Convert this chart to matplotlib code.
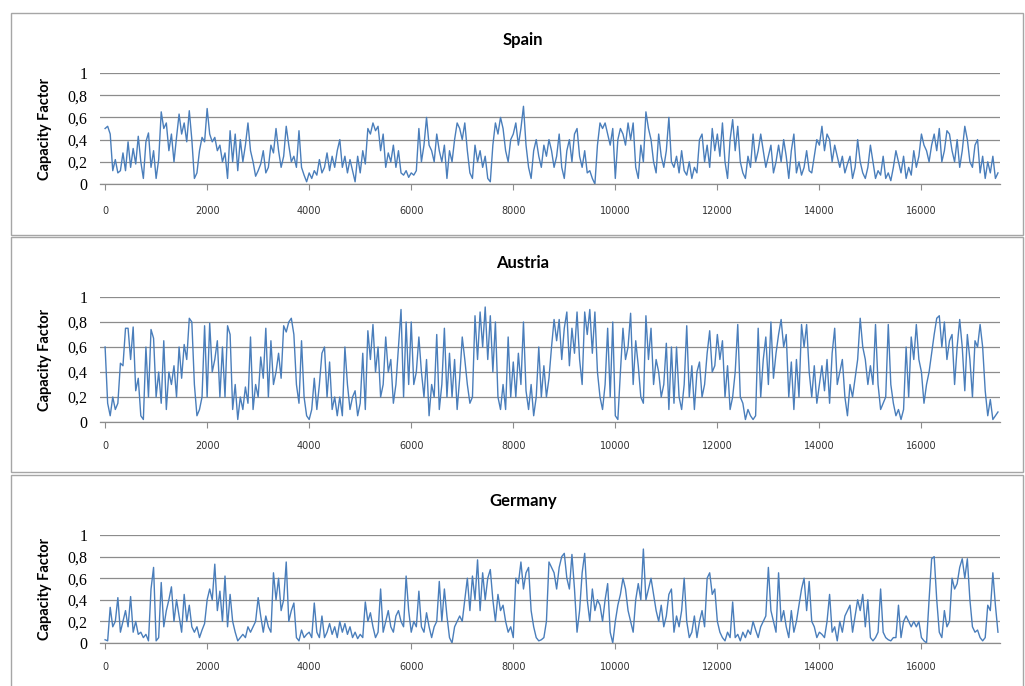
import numpy as np
import matplotlib
matplotlib.use("Agg")
import matplotlib.pyplot as plt
from matplotlib.patches import Rectangle

# capacity factor, one value every 50 time steps (0 .. 17500)
step = 50
spain = [
    0.50, 0.52, 0.45, 0.12, 0.22, 0.10, 0.12, 0.28, 0.12, 0.38, 0.15, 0.32, 0.18, 0.43, 0.20, 0.05, 0.38, 0.46, 0.15, 0.30,
    0.05, 0.22, 0.65, 0.50, 0.55, 0.30, 0.45, 0.20, 0.42, 0.63, 0.45, 0.55, 0.38, 0.66, 0.40, 0.05, 0.10, 0.30, 0.42, 0.38,
    0.68, 0.45, 0.38, 0.42, 0.30, 0.35, 0.20, 0.28, 0.05, 0.48, 0.20, 0.45, 0.12, 0.40, 0.20, 0.35, 0.55, 0.30, 0.20, 0.07,
    0.12, 0.18, 0.30, 0.10, 0.15, 0.35, 0.28, 0.50, 0.30, 0.15, 0.25, 0.52, 0.35, 0.20, 0.25, 0.15, 0.48, 0.15, 0.08, 0.02,
    0.10, 0.05, 0.12, 0.08, 0.22, 0.10, 0.15, 0.28, 0.12, 0.25, 0.15, 0.30, 0.40, 0.15, 0.25, 0.10, 0.22, 0.12, 0.02, 0.25,
    0.10, 0.30, 0.18, 0.50, 0.45, 0.55, 0.48, 0.52, 0.30, 0.45, 0.15, 0.28, 0.20, 0.35, 0.15, 0.30, 0.10, 0.08, 0.12, 0.06,
    0.10, 0.08, 0.12, 0.50, 0.20, 0.35, 0.60, 0.35, 0.30, 0.20, 0.45, 0.30, 0.20, 0.35, 0.05, 0.30, 0.20, 0.40, 0.55, 0.50,
    0.40, 0.55, 0.30, 0.10, 0.05, 0.35, 0.20, 0.30, 0.15, 0.25, 0.05, 0.02, 0.35, 0.55, 0.45, 0.60, 0.50, 0.30, 0.20, 0.40,
    0.45, 0.55, 0.35, 0.50, 0.70, 0.35, 0.15, 0.05, 0.30, 0.40, 0.25, 0.15, 0.35, 0.25, 0.40, 0.30, 0.15, 0.25, 0.45, 0.15,
    0.05, 0.30, 0.40, 0.20, 0.45, 0.50, 0.25, 0.15, 0.30, 0.10, 0.12, 0.05, 0.00, 0.35, 0.55, 0.50, 0.55, 0.45, 0.35, 0.50,
    0.05, 0.40, 0.50, 0.45, 0.35, 0.55, 0.40, 0.55, 0.15, 0.05, 0.35, 0.20, 0.65, 0.50, 0.40, 0.20, 0.10, 0.45, 0.25, 0.15,
    0.30, 0.60, 0.20, 0.15, 0.25, 0.10, 0.30, 0.12, 0.08, 0.20, 0.05, 0.15, 0.10, 0.40, 0.45, 0.20, 0.35, 0.15, 0.50, 0.30,
    0.45, 0.25, 0.55, 0.20, 0.05, 0.40, 0.58, 0.30, 0.52, 0.20, 0.10, 0.05, 0.25, 0.15, 0.45, 0.20, 0.30, 0.45, 0.30, 0.15,
    0.25, 0.35, 0.10, 0.20, 0.35, 0.20, 0.40, 0.25, 0.05, 0.30, 0.45, 0.10, 0.20, 0.08, 0.15, 0.30, 0.12, 0.10, 0.25, 0.40,
    0.35, 0.52, 0.30, 0.45, 0.40, 0.20, 0.35, 0.25, 0.15, 0.25, 0.10, 0.18, 0.25, 0.05, 0.15, 0.40, 0.20, 0.10, 0.05, 0.15,
    0.35, 0.20, 0.05, 0.12, 0.08, 0.25, 0.05, 0.10, 0.03, 0.15, 0.30, 0.20, 0.10, 0.25, 0.05, 0.15, 0.08, 0.30, 0.15, 0.25,
    0.45, 0.35, 0.30, 0.20, 0.35, 0.45, 0.30, 0.50, 0.20, 0.30, 0.48, 0.45, 0.30, 0.20, 0.40, 0.15, 0.30, 0.52, 0.40, 0.20,
    0.15, 0.35, 0.40, 0.10, 0.25, 0.05, 0.20, 0.10, 0.25, 0.05, 0.10,
]
austria = [
    0.60, 0.15, 0.05, 0.20, 0.10, 0.15, 0.47, 0.45, 0.75, 0.75, 0.50, 0.76, 0.25, 0.35, 0.05, 0.02, 0.60, 0.20, 0.74, 0.67,
    0.20, 0.40, 0.15, 0.65, 0.10, 0.40, 0.30, 0.45, 0.20, 0.60, 0.35, 0.62, 0.50, 0.83, 0.80, 0.30, 0.05, 0.10, 0.20, 0.77,
    0.20, 0.79, 0.40, 0.50, 0.65, 0.20, 0.60, 0.20, 0.77, 0.70, 0.10, 0.30, 0.02, 0.20, 0.10, 0.28, 0.15, 0.68, 0.10, 0.30,
    0.20, 0.52, 0.35, 0.75, 0.20, 0.65, 0.30, 0.40, 0.55, 0.35, 0.77, 0.72, 0.80, 0.83, 0.70, 0.30, 0.15, 0.65, 0.20, 0.05,
    0.02, 0.10, 0.35, 0.10, 0.30, 0.55, 0.60, 0.20, 0.48, 0.10, 0.20, 0.05, 0.20, 0.05, 0.60, 0.30, 0.10, 0.20, 0.25, 0.05,
    0.15, 0.55, 0.10, 0.73, 0.50, 0.78, 0.40, 0.60, 0.20, 0.30, 0.68, 0.40, 0.50, 0.15, 0.30, 0.60, 0.90, 0.20, 0.80, 0.30,
    0.80, 0.30, 0.40, 0.68, 0.40, 0.20, 0.50, 0.05, 0.30, 0.20, 0.70, 0.10, 0.30, 0.75, 0.20, 0.55, 0.20, 0.50, 0.10, 0.35,
    0.68, 0.50, 0.30, 0.15, 0.20, 0.85, 0.50, 0.88, 0.60, 0.92, 0.50, 0.85, 0.40, 0.80, 0.20, 0.10, 0.30, 0.10, 0.68, 0.20,
    0.48, 0.20, 0.55, 0.30, 0.80, 0.25, 0.10, 0.30, 0.05, 0.20, 0.60, 0.20, 0.45, 0.20, 0.35, 0.60, 0.82, 0.65, 0.82, 0.50,
    0.75, 0.88, 0.45, 0.75, 0.55, 0.88, 0.50, 0.30, 0.88, 0.70, 0.90, 0.55, 0.88, 0.40, 0.20, 0.10, 0.30, 0.75, 0.20, 0.80,
    0.05, 0.02, 0.40, 0.75, 0.50, 0.60, 0.87, 0.30, 0.65, 0.45, 0.20, 0.15, 0.85, 0.50, 0.75, 0.30, 0.50, 0.40, 0.20, 0.30,
    0.63, 0.10, 0.60, 0.15, 0.60, 0.20, 0.10, 0.30, 0.77, 0.20, 0.45, 0.10, 0.40, 0.48, 0.20, 0.30, 0.55, 0.73, 0.40, 0.45,
    0.70, 0.50, 0.65, 0.20, 0.45, 0.10, 0.20, 0.40, 0.78, 0.20, 0.15, 0.02, 0.10, 0.05, 0.02, 0.05, 0.75, 0.20, 0.50, 0.68,
    0.30, 0.80, 0.35, 0.55, 0.70, 0.82, 0.60, 0.70, 0.20, 0.48, 0.10, 0.50, 0.20, 0.78, 0.60, 0.78, 0.40, 0.20, 0.45, 0.15,
    0.30, 0.45, 0.25, 0.50, 0.15, 0.55, 0.75, 0.30, 0.40, 0.50, 0.20, 0.05, 0.30, 0.20, 0.35, 0.50, 0.83, 0.60, 0.50, 0.30,
    0.45, 0.30, 0.78, 0.30, 0.10, 0.15, 0.20, 0.78, 0.30, 0.15, 0.05, 0.10, 0.02, 0.10, 0.60, 0.20, 0.68, 0.50, 0.78, 0.50,
    0.40, 0.15, 0.30, 0.40, 0.55, 0.70, 0.83, 0.85, 0.60, 0.80, 0.50, 0.65, 0.70, 0.30, 0.60, 0.82, 0.60, 0.25, 0.70, 0.50,
    0.20, 0.65, 0.60, 0.78, 0.60, 0.25, 0.05, 0.18, 0.02, 0.05, 0.08,
]
germany = [
    0.03, 0.02, 0.33, 0.15, 0.20, 0.42, 0.10, 0.20, 0.30, 0.15, 0.43, 0.10, 0.20, 0.08, 0.10, 0.05, 0.08, 0.02, 0.50, 0.70,
    0.02, 0.05, 0.56, 0.15, 0.30, 0.40, 0.52, 0.20, 0.40, 0.25, 0.10, 0.45, 0.20, 0.35, 0.15, 0.10, 0.15, 0.05, 0.12, 0.18,
    0.40, 0.50, 0.40, 0.73, 0.30, 0.48, 0.20, 0.62, 0.15, 0.45, 0.20, 0.10, 0.02, 0.05, 0.08, 0.05, 0.15, 0.10, 0.15, 0.20,
    0.42, 0.25, 0.10, 0.25, 0.15, 0.10, 0.65, 0.40, 0.60, 0.30, 0.40, 0.75, 0.20, 0.30, 0.37, 0.05, 0.02, 0.12, 0.05, 0.08,
    0.10, 0.05, 0.37, 0.10, 0.05, 0.25, 0.05, 0.10, 0.18, 0.08, 0.15, 0.05, 0.20, 0.10, 0.18, 0.08, 0.15, 0.05, 0.10, 0.04,
    0.08, 0.05, 0.38, 0.20, 0.28, 0.15, 0.05, 0.10, 0.50, 0.10, 0.20, 0.30, 0.15, 0.10, 0.25, 0.30, 0.20, 0.15, 0.62, 0.30,
    0.10, 0.20, 0.15, 0.48, 0.15, 0.10, 0.28, 0.15, 0.05, 0.15, 0.20, 0.57, 0.20, 0.50, 0.25, 0.05, 0.00, 0.15, 0.20, 0.25,
    0.20, 0.40, 0.60, 0.30, 0.62, 0.40, 0.77, 0.30, 0.65, 0.40, 0.60, 0.68, 0.40, 0.20, 0.45, 0.30, 0.35, 0.20, 0.10, 0.15,
    0.05, 0.60, 0.55, 0.75, 0.50, 0.65, 0.70, 0.30, 0.15, 0.05, 0.02, 0.03, 0.05, 0.20, 0.75, 0.70, 0.65, 0.50, 0.70, 0.80,
    0.83, 0.60, 0.50, 0.82, 0.50, 0.10, 0.30, 0.65, 0.83, 0.40, 0.20, 0.50, 0.30, 0.40, 0.35, 0.20, 0.40, 0.55, 0.10, 0.00,
    0.20, 0.35, 0.45, 0.60, 0.50, 0.30, 0.20, 0.10, 0.40, 0.55, 0.40, 0.87, 0.40, 0.50, 0.60, 0.45, 0.30, 0.20, 0.35, 0.15,
    0.25, 0.45, 0.50, 0.10, 0.25, 0.15, 0.30, 0.60, 0.20, 0.05, 0.10, 0.25, 0.05, 0.20, 0.30, 0.15, 0.60, 0.65, 0.45, 0.50,
    0.20, 0.10, 0.05, 0.02, 0.10, 0.05, 0.38, 0.05, 0.08, 0.02, 0.10, 0.05, 0.12, 0.08, 0.20, 0.12, 0.05, 0.15, 0.20, 0.25,
    0.70, 0.30, 0.20, 0.10, 0.65, 0.20, 0.30, 0.15, 0.05, 0.30, 0.10, 0.20, 0.35, 0.50, 0.60, 0.30, 0.57, 0.20, 0.15, 0.05,
    0.10, 0.08, 0.05, 0.20, 0.45, 0.10, 0.15, 0.02, 0.20, 0.10, 0.25, 0.30, 0.35, 0.10, 0.25, 0.40, 0.30, 0.45, 0.15, 0.40,
    0.05, 0.02, 0.05, 0.10, 0.50, 0.10, 0.05, 0.03, 0.02, 0.05, 0.05, 0.35, 0.05, 0.20, 0.25, 0.20, 0.15, 0.20, 0.15, 0.20,
    0.05, 0.02, 0.00, 0.40, 0.78, 0.80, 0.40, 0.10, 0.05, 0.30, 0.15, 0.20, 0.60, 0.50, 0.55, 0.70, 0.78, 0.60, 0.78, 0.40,
    0.15, 0.10, 0.12, 0.05, 0.02, 0.05, 0.35, 0.30, 0.65, 0.35, 0.10,
]
titles = ["Spain", "Austria", "Germany"]
y_ticks = [0, 0.2, 0.4, 0.6, 0.8, 1]
y_labels = ["0", "0,2", "0,4", "0,6", "0,8", "1"]
x_ticks = list(range(0, 17000, 2000))

W, H = 1025, 686
LINE = "#4a7ebb"
GRID = "#8c8c8c"

# pixel layout: (box top, box bottom, title y, axes top, axes bottom, tick label pad)
panels = [
    (13, 235, 40, 73, 184, 12),
    (237, 472, 263, 297, 422, 10),
    (475, 700, 501, 535, 643, 10),
]

fig = plt.figure(figsize=(W / 100, H / 100), dpi=100)
fig.patch.set_facecolor("white")

for series, title, (btop, bbot, ty, atop, abot, pad) in zip([spain, austria, germany], titles, panels):
    # grey frame round each chart
    fig.patches.append(Rectangle((11 / W, 1 - bbot / H), (1023 - 11) / W, (bbot - btop) / H,
                                 transform=fig.transFigure, fill=False, edgecolor="#a6a6a6", linewidth=1.0))
    ax = fig.add_axes([100 / W, 1 - abot / H, 900 / W, (abot - atop) / H])
    x = np.arange(len(series)) * step
    ax.plot(x, series, color=LINE, linewidth=1.0)
    ax.set_xlim(-100, 17540)
    ax.set_ylim(0, 1)
    ax.set_yticks(y_ticks)
    ax.set_yticklabels(y_labels, family="Liberation Serif", fontsize=11.5)
    ax.set_xticks(x_ticks)
    ax.set_xticklabels([str(t) for t in x_ticks], fontsize=7, color="#333333")
    ax.tick_params(axis="y", length=0, pad=9)
    ax.tick_params(axis="x", length=4, color=GRID, pad=pad)
    ax.grid(axis="y", color=GRID, linewidth=0.9)
    ax.set_axisbelow(True)
    for side in ["top", "right", "left"]:
        ax.spines[side].set_visible(False)
    ax.spines["bottom"].set_color(GRID)
    ax.spines["bottom"].set_linewidth(0.9)
    fig.text(523 / W, 1 - ty / H, title, ha="center", va="center",
             family="Lato", fontweight="bold", fontsize=12)
    fig.text(45 / W, 1 - (atop + abot) / 2 / H, "Capacity Factor", ha="center", va="center",
             rotation=90, family="Lato", fontweight="bold", fontsize=10.5)

fig.savefig("out.png", dpi=100)
